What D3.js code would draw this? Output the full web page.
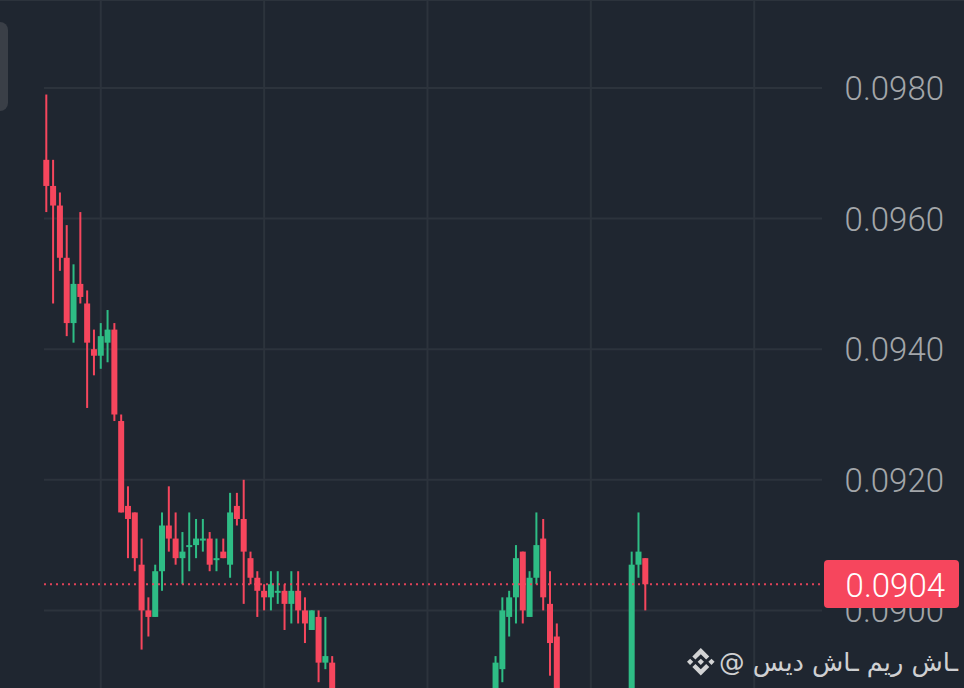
<!DOCTYPE html>
<html><head><meta charset="utf-8">
<script src="https://cdn.jsdelivr.net/npm/d3@7/dist/d3.min.js"></script>
<style>html,body{margin:0;padding:0;background:#1f2630;overflow:hidden}svg{display:block}</style>
</head><body><svg id="c" width="964" height="688"></svg>
<script>
// candle slots (slots 43-65 and 76-85 fall below the visible window and are not readable)
const slots = [0,1,2,3,4,5,6,7,8,9,10,11,12,13,14,15,16,17,18,19,20,21,22,23,24,25,26,27,28,29,30,31,32,33,34,35,36,37,38,39,40,41,42,
  66,67,68,69,70,71,72,73,74,75,86,87,88];
const opens = [.0969,.0965,.0962,.0954,.0944,.0950,.0947,.0940,.0939,.0941,.0943,.0929,.0916,.0915,.0907,.0900,.0899,.0906,.0913,.0911,.0908,.0910,.0910,.0911,.0911,.0908,.0909,.0907,.0916,.0914,.0908,.0905,.0903,.0902,.0903,.0903,.0901,.0903,.0900,.0897,.0899,.0892,.0892,
  .0880,.0891,.0899,.0902,.0909,.0899,.0905,.0911,.0901,.0896,.0880,.0907,.0908];
const highs = [.0979,.0969,.0964,.0959,.0953,.0961,.0949,.0943,.0944,.0946,.0944,.0930,.0919,.0915,.0911,.0902,.0907,.0915,.0919,.0915,.0912,.0915,.0914,.0914,.0912,.0911,.0911,.0918,.0918,.0920,.0909,.0906,.0904,.0906,.0906,.0904,.0906,.0906,.0902,.0900,.0900,.0899,.0893,
  .0893,.0902,.0903,.0910,.0909,.0906,.0915,.0914,.0906,.0898,.0909,.0915,.0908];
const lows = [.0961,.0947,.0952,.0942,.0941,.0947,.0931,.0936,.0937,.0938,.0929,.0915,.0908,.0906,.0894,.0896,.0899,.0903,.0909,.0907,.0904,.0906,.0908,.0909,.0906,.0906,.0908,.0905,.0913,.0901,.0904,.0899,.0900,.0900,.0901,.0897,.0898,.0898,.0895,.0897,.0889,.0891,.0878,
  .0878,.0889,.0896,.0898,.0898,.0899,.0904,.0900,.0890,.0878,.0878,.0905,.0900];
const closes = [.0965,.0962,.0954,.0944,.0950,.0948,.0941,.0939,.0942,.0943,.0930,.0915,.0914,.0908,.0900,.0899,.0906,.0913,.0911,.0908,.0909,.0910,.0911,.0911,.0907,.0908,.0908,.0915,.0914,.0909,.0905,.0903,.0902,.0904,.0903,.0901,.0903,.0900,.0898,.0900,.0892,.0893,.0880,
  .0892,.0900,.0902,.0908,.0900,.0905,.0910,.0902,.0895,.0880,.0907,.0909,.0904];
const yTicks = [.0980,.0960,.0940,.0920,.0900];
const xGridSlots = [8,32,56,80,104];
const lastPrice = .0904;
const RED = "#f6465d", GREEN = "#2ebd85", GRID = "#2c333c";

const svg = d3.select("#c");
const x = d3.scaleLinear().domain([0,88]).range([46.3,645.3]);
const y = d3.scaleLinear().domain([.0980,.0900]).range([88,610.4]);

// grid
svg.append("line").attr("x1",0).attr("x2",964).attr("y1",0).attr("y2",0).attr("stroke",GRID).attr("stroke-width",2);
svg.append("g").selectAll("line").data(xGridSlots).join("line")
  .attr("x1",d=>x(d)).attr("x2",d=>x(d)).attr("y1",0).attr("y2",688)
  .attr("stroke",GRID).attr("stroke-width",2);
svg.append("g").selectAll("line").data(yTicks).join("line")
  .attr("x1",44).attr("x2",822).attr("y1",d=>y(d)).attr("y2",d=>y(d))
  .attr("stroke",GRID).attr("stroke-width",2);

// y labels
svg.append("g").selectAll("text").data(yTicks).join("text")
  .attr("x",944).attr("y",d=>y(d)+12).attr("text-anchor","end")
  .attr("font-family","Roboto").attr("font-size",33).attr("font-weight",300)
  .attr("fill","#a3a6aa").text(d=>d.toFixed(4));

// candles
const candles = svg.append("g").selectAll("g").data(slots.map((s,i)=>({s,o:opens[i],h:highs[i],l:lows[i],c:closes[i]}))).join("g");
const col = d=>d.c>=d.o?GREEN:RED;
candles.append("rect").attr("x",d=>x(d.s)-1).attr("width",2)
  .attr("y",d=>y(d.h)).attr("height",d=>y(d.l)-y(d.h)).attr("fill",col);
candles.append("rect").attr("x",d=>x(d.s)-3).attr("width",6)
  .attr("y",d=>y(Math.max(d.o,d.c))).attr("height",d=>Math.max(2,y(Math.min(d.o,d.c))-y(Math.max(d.o,d.c))))
  .attr("fill",col);

// last-price line
svg.append("line").attr("x1",44).attr("x2",822).attr("y1",y(lastPrice)).attr("y2",y(lastPrice))
  .attr("stroke",RED).attr("stroke-opacity",.9).attr("stroke-width",2).attr("stroke-dasharray","2 4");
svg.append("rect").attr("x",824).attr("y",560).attr("width",135).attr("height",48).attr("rx",4).attr("fill",RED);
svg.append("text").attr("x",945).attr("y",y(lastPrice)+12.5).attr("text-anchor","end")
  .attr("font-family","Roboto").attr("font-size",33).attr("font-weight",300)
  .attr("fill","#fff").text(lastPrice.toFixed(4));

// side handle
svg.append("rect").attr("x",-12).attr("y",22).attr("width",20).attr("height",89).attr("rx",8).attr("fill","#3a3f47");

// watermark
svg.append("text").attr("x",958).attr("y",671).attr("text-anchor","start").attr("direction","rtl")
  .attr("font-family","DejaVu Sans").attr("font-size",25.6).attr("fill","#cfd0d2")
  .text("ـاش ریم ـاش دیس @");
const logo = svg.append("g").attr("transform","translate(687,648) scale(0.218)").attr("fill","#d2d3d4");
["M38.73 53.2l24.59-24.58 24.6 24.6 14.3-14.31L63.32 0 24.42 38.9z",
 "M0 63.31l14.3-14.31 14.31 14.31-14.31 14.3z",
 "M38.73 73.41l24.59 24.59 24.6-24.6 14.31 14.29-38.9 38.91-38.91-38.88z",
 "M98 63.31l14.3-14.31 14.31 14.3-14.31 14.32z",
 "M77.83 63.3L63.32 48.78 52.59 59.51l-1.24 1.23-2.54 2.54 14.51 14.5 14.51-14.47z"]
 .forEach(p=>logo.append("path").attr("d",p));
</script></body></html>
